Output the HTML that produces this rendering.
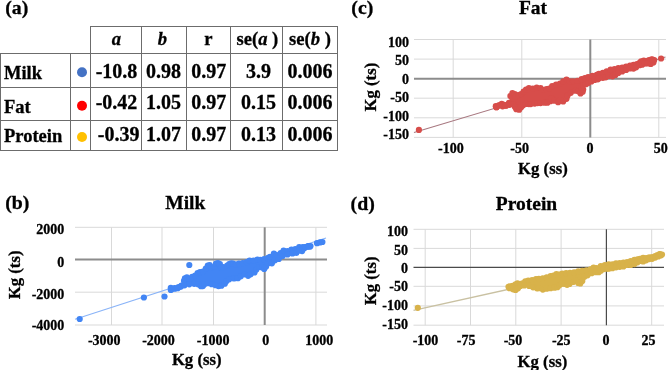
<!DOCTYPE html>
<html><head><meta charset="utf-8"><style>
html,body{margin:0;padding:0;background:#fff;width:669px;height:370px;overflow:hidden}
svg{display:block;will-change:transform}
text{font-family:"Liberation Serif",serif;font-weight:bold;fill:#000;stroke:#000;stroke-width:0.3px}
</style></head><body>
<svg width="669" height="370" viewBox="0 0 669 370">
<line x1="90" y1="26.5" x2="337.5" y2="26.5" stroke="#6c6c6c" stroke-width="1"/>
<line x1="0" y1="53.5" x2="337.5" y2="53.5" stroke="#6c6c6c" stroke-width="1"/>
<line x1="0" y1="87.5" x2="337.5" y2="87.5" stroke="#6c6c6c" stroke-width="1"/>
<line x1="0" y1="120.5" x2="337.5" y2="120.5" stroke="#6c6c6c" stroke-width="1"/>
<line x1="0" y1="150.5" x2="337.5" y2="150.5" stroke="#6c6c6c" stroke-width="1"/>
<line x1="0.5" y1="53" x2="0.5" y2="151" stroke="#6c6c6c" stroke-width="1"/>
<line x1="70.5" y1="53" x2="70.5" y2="151" stroke="#6c6c6c" stroke-width="1"/>
<line x1="90.5" y1="26" x2="90.5" y2="151" stroke="#6c6c6c" stroke-width="1"/>
<line x1="141.5" y1="26" x2="141.5" y2="151" stroke="#6c6c6c" stroke-width="1"/>
<line x1="186.5" y1="26" x2="186.5" y2="151" stroke="#6c6c6c" stroke-width="1"/>
<line x1="230.5" y1="26" x2="230.5" y2="151" stroke="#6c6c6c" stroke-width="1"/>
<line x1="282.5" y1="26" x2="282.5" y2="151" stroke="#6c6c6c" stroke-width="1"/>
<line x1="337.5" y1="26" x2="337.5" y2="151" stroke="#6c6c6c" stroke-width="1"/>
<text x="5.2" y="13.6" font-size="19.8" text-anchor="start" >(a)</text>
<text x="351.3" y="13.6" font-size="19.8" text-anchor="start" >(c)</text>
<text x="5.2" y="208.7" font-size="19.8" text-anchor="start" >(b)</text>
<text x="350.6" y="209.5" font-size="19.8" text-anchor="start" >(d)</text>
<text x="116.5" y="45.2" font-size="18.6" text-anchor="middle" font-style="italic">a</text>
<text x="162.3" y="45.2" font-size="18.6" text-anchor="middle" font-style="italic">b</text>
<text x="208.5" y="45.2" font-size="18.6" text-anchor="middle" >r</text>
<text x="257.4" y="45" font-size="18.6" text-anchor="middle" >se(<tspan font-style="italic">a</tspan> )</text>
<text x="310" y="45" font-size="18.6" text-anchor="middle" >se(<tspan font-style="italic">b</tspan> )</text>
<text x="4" y="79.4" font-size="18.5" text-anchor="start" >Milk</text>
<circle cx="82" cy="72.2" r="5" fill="#4472c4"/>
<text x="116.5" y="77.6" font-size="20" text-anchor="middle" >-10.8</text>
<text x="163.5" y="77.6" font-size="20" text-anchor="middle" >0.98</text>
<text x="208.7" y="77.6" font-size="20" text-anchor="middle" >0.97</text>
<text x="258.5" y="77.6" font-size="20" text-anchor="middle" >3.9</text>
<text x="310" y="77.6" font-size="20" text-anchor="middle" >0.006</text>
<text x="4" y="113" font-size="18.5" text-anchor="start" >Fat</text>
<circle cx="82" cy="105.8" r="5" fill="#ff0000"/>
<text x="116.5" y="109.4" font-size="20" text-anchor="middle" >-0.42</text>
<text x="163.5" y="109.4" font-size="20" text-anchor="middle" >1.05</text>
<text x="208.7" y="109.4" font-size="20" text-anchor="middle" >0.97</text>
<text x="258.5" y="109.4" font-size="20" text-anchor="middle" >0.15</text>
<text x="310" y="109.4" font-size="20" text-anchor="middle" >0.006</text>
<text x="4" y="142.1" font-size="18.5" text-anchor="start" >Protein</text>
<circle cx="82" cy="137" r="5" fill="#ffc000"/>
<text x="118.7" y="141.4" font-size="20" text-anchor="middle" >-0.39</text>
<text x="163.5" y="141.4" font-size="20" text-anchor="middle" >1.07</text>
<text x="208.7" y="141.4" font-size="20" text-anchor="middle" >0.97</text>
<text x="258.5" y="141.4" font-size="20" text-anchor="middle" >0.13</text>
<text x="310" y="141.4" font-size="20" text-anchor="middle" >0.006</text>
<line x1="414" y1="39.5" x2="666" y2="39.5" stroke="#d9d9d9" stroke-width="1"/>
<line x1="414" y1="59.1" x2="666" y2="59.1" stroke="#d9d9d9" stroke-width="1"/>
<line x1="414" y1="98.2" x2="666" y2="98.2" stroke="#d9d9d9" stroke-width="1"/>
<line x1="414" y1="117.8" x2="666" y2="117.8" stroke="#d9d9d9" stroke-width="1"/>
<line x1="414" y1="137.4" x2="666" y2="137.4" stroke="#d9d9d9" stroke-width="1"/>
<line x1="453.2" y1="39.5" x2="453.2" y2="137.5" stroke="#d9d9d9" stroke-width="1"/>
<line x1="521.8" y1="39.5" x2="521.8" y2="137.5" stroke="#d9d9d9" stroke-width="1"/>
<line x1="658.8" y1="39.5" x2="658.8" y2="137.5" stroke="#d9d9d9" stroke-width="1"/>
<line x1="414" y1="78.7" x2="666" y2="78.7" stroke="#8c8c8c" stroke-width="2"/>
<line x1="590.3" y1="39.5" x2="590.3" y2="137.5" stroke="#8c8c8c" stroke-width="2"/>
<text x="409" y="46.9" font-size="14" text-anchor="end" >100</text>
<text x="409" y="65.3" font-size="14" text-anchor="end" >50</text>
<text x="409" y="83.6" font-size="14" text-anchor="end" >0</text>
<text x="409" y="102.2" font-size="14" text-anchor="end" >-50</text>
<text x="409" y="120.7" font-size="14" text-anchor="end" >-100</text>
<text x="409" y="139" font-size="14" text-anchor="end" >-150</text>
<text x="450.9" y="152.9" font-size="14" text-anchor="middle" >-100</text>
<text x="519.6" y="152.9" font-size="14" text-anchor="middle" >-50</text>
<text x="590" y="152.9" font-size="14" text-anchor="middle" >0</text>
<text x="660.7" y="152.9" font-size="14" text-anchor="middle" >50</text>
<text x="533" y="13.8" font-size="19.5" text-anchor="middle" >Fat</text>
<text x="542.9" y="173.6" font-size="16.7" text-anchor="middle" >Kg (ss)</text>
<text x="0" y="0" font-size="16.7" text-anchor="middle" transform="translate(376,87.15) rotate(-90)">Kg (ts)</text>
<line x1="75" y1="227.3" x2="327" y2="227.3" stroke="#d9d9d9" stroke-width="1"/>
<line x1="75" y1="292.2" x2="327" y2="292.2" stroke="#d9d9d9" stroke-width="1"/>
<line x1="75" y1="325" x2="327" y2="325" stroke="#d9d9d9" stroke-width="1"/>
<line x1="111.5" y1="227.3" x2="111.5" y2="325" stroke="#d9d9d9" stroke-width="1"/>
<line x1="162" y1="227.3" x2="162" y2="325" stroke="#d9d9d9" stroke-width="1"/>
<line x1="213.5" y1="227.3" x2="213.5" y2="325" stroke="#d9d9d9" stroke-width="1"/>
<line x1="315.9" y1="227.3" x2="315.9" y2="325" stroke="#d9d9d9" stroke-width="1"/>
<line x1="75" y1="259.6" x2="327" y2="259.6" stroke="#8c8c8c" stroke-width="2"/>
<line x1="264.7" y1="227.3" x2="264.7" y2="325" stroke="#8c8c8c" stroke-width="2"/>
<text x="64.3" y="234.2" font-size="14" text-anchor="end" >2000</text>
<text x="64.3" y="266.6" font-size="14" text-anchor="end" >0</text>
<text x="64.3" y="298.6" font-size="14" text-anchor="end" >-2000</text>
<text x="64.3" y="329.5" font-size="14" text-anchor="end" >-4000</text>
<text x="104.3" y="345" font-size="14" text-anchor="middle" >-3000</text>
<text x="158.5" y="345" font-size="14" text-anchor="middle" >-2000</text>
<text x="213.2" y="345" font-size="14" text-anchor="middle" >-1000</text>
<text x="265.8" y="345" font-size="14" text-anchor="middle" >0</text>
<text x="319.3" y="345" font-size="14" text-anchor="middle" >1000</text>
<text x="185.3" y="208.9" font-size="19.5" text-anchor="middle" >Milk</text>
<text x="196.7" y="365.4" font-size="16.7" text-anchor="middle" >Kg (ss)</text>
<text x="0" y="0" font-size="16.7" text-anchor="middle" transform="translate(20.3,274.85) rotate(-90)">Kg (ts)</text>
<line x1="413.5" y1="229.3" x2="664" y2="229.3" stroke="#d9d9d9" stroke-width="1"/>
<line x1="413.5" y1="248.4" x2="664" y2="248.4" stroke="#d9d9d9" stroke-width="1"/>
<line x1="413.5" y1="286.3" x2="664" y2="286.3" stroke="#d9d9d9" stroke-width="1"/>
<line x1="413.5" y1="305.9" x2="664" y2="305.9" stroke="#d9d9d9" stroke-width="1"/>
<line x1="413.5" y1="325.2" x2="664" y2="325.2" stroke="#d9d9d9" stroke-width="1"/>
<line x1="425.2" y1="229.3" x2="425.2" y2="325.2" stroke="#d9d9d9" stroke-width="1"/>
<line x1="470.5" y1="229.3" x2="470.5" y2="325.2" stroke="#d9d9d9" stroke-width="1"/>
<line x1="515.8" y1="229.3" x2="515.8" y2="325.2" stroke="#d9d9d9" stroke-width="1"/>
<line x1="561.1" y1="229.3" x2="561.1" y2="325.2" stroke="#d9d9d9" stroke-width="1"/>
<line x1="651.7" y1="229.3" x2="651.7" y2="325.2" stroke="#d9d9d9" stroke-width="1"/>
<line x1="413.5" y1="267.4" x2="664" y2="267.4" stroke="#4a4a4a" stroke-width="1.2"/>
<line x1="606.4" y1="229.3" x2="606.4" y2="325.2" stroke="#4a4a4a" stroke-width="1.2"/>
<text x="408" y="235.8" font-size="14" text-anchor="end" >100</text>
<text x="408" y="254.7" font-size="14" text-anchor="end" >50</text>
<text x="408" y="272.8" font-size="14" text-anchor="end" >0</text>
<text x="408" y="291.4" font-size="14" text-anchor="end" >-50</text>
<text x="408" y="310.3" font-size="14" text-anchor="end" >-100</text>
<text x="408" y="328.6" font-size="14" text-anchor="end" >-150</text>
<text x="425.5" y="345.1" font-size="14" text-anchor="middle" >-100</text>
<text x="466.2" y="345.1" font-size="14" text-anchor="middle" >-75</text>
<text x="513" y="345.1" font-size="14" text-anchor="middle" >-50</text>
<text x="561.3" y="345.1" font-size="14" text-anchor="middle" >-25</text>
<text x="605.9" y="345.1" font-size="14" text-anchor="middle" >0</text>
<text x="648.5" y="345.1" font-size="14" text-anchor="middle" >25</text>
<text x="526.5" y="209.7" font-size="19.5" text-anchor="middle" >Protein</text>
<text x="542.4" y="366.5" font-size="16.7" text-anchor="middle" >Kg (ss)</text>
<text x="0" y="0" font-size="16.7" text-anchor="middle" transform="translate(375.7,280.9) rotate(-90)">Kg (ts)</text>
<line x1="414" y1="132.50" x2="665.5" y2="57.05" stroke="#a87880" stroke-width="1.1"/>
<path d="M496.4,107.4 L495.8,105.4 L498.8,104.0 L501.7,102.5 L504.1,103.5 L506.1,104.9 L509.0,101.5 L510.4,94.7 L512.4,91.8 L514.8,92.8 L515.8,95.2 L518.2,93.8 L521.1,92.8 L523.6,90.4 L526.0,88.4 L528.9,86.7 L532.8,87.2 L536.7,86.2 L540.6,86.7 L543.5,88.7 L546.4,87.7 L549.3,87.2 L552.2,84.8 L556.1,83.3 L560.0,82.4 L563.2,80.0 L566.5,78.4 L569.7,80.0 L573.0,80.0 L577.3,79.5 L581.6,77.9 L584.9,76.8 L588.1,75.7 L592.4,74.6 L596.8,73.5 L598.9,72.6 L602.8,71.6 L606.7,70.1 L610.6,68.2 L614.5,67.7 L618.3,66.7 L622.2,66.2 L626.1,65.3 L630.0,64.4 L633.5,63.6 L636.9,62.7 L639.9,61.4 L641.2,60.1 L643.8,59.3 L646.4,59.7 L649.0,58.8 L651.6,58.0 L654.2,59.3 L653.0,61.9 L652.6,60.8 L653.4,63.0 L650.8,65.2 L647.3,64.7 L644.7,64.7 L642.1,66.0 L639.5,66.5 L636.1,68.6 L633.5,69.9 L630.0,69.7 L626.1,71.3 L622.2,72.8 L618.3,74.2 L615.4,76.2 L612.5,77.6 L608.6,77.2 L605.7,78.6 L602.8,79.1 L598.9,79.6 L597.8,80.6 L594.6,81.2 L591.4,82.8 L588.1,84.4 L585.9,85.5 L583.2,86.6 L581.6,88.7 L583.2,90.9 L582.7,93.0 L580.5,94.7 L578.4,92.5 L575.1,92.0 L570.8,94.1 L567.6,96.8 L566.5,100.1 L563.2,102.8 L560.0,101.7 L558.1,103.5 L554.2,102.0 L551.3,99.6 L550.3,102.5 L547.4,104.0 L544.5,104.0 L540.6,104.4 L537.6,104.4 L534.7,104.9 L530.8,105.4 L528.9,105.4 L526.0,105.2 L523.1,106.6 L521.1,108.6 L519.2,111.0 L516.3,110.5 L514.8,108.1 L513.3,105.6 L509.5,106.1 L505.6,106.6 L502.6,107.6 L499.7,106.6 L496.8,108.1 L496.4,107.1Z" fill="#d74d4a"/>
<circle cx="496.4" cy="107.2" r="3.1" fill="#d74d4a"/>
<circle cx="495.8" cy="106.2" r="3.1" fill="#d74d4a"/>
<circle cx="498.8" cy="105.3" r="3.1" fill="#d74d4a"/>
<circle cx="501.7" cy="103.8" r="3.1" fill="#d74d4a"/>
<circle cx="504.1" cy="104.8" r="3.1" fill="#d74d4a"/>
<circle cx="506.1" cy="105.7" r="3.1" fill="#d74d4a"/>
<circle cx="509.0" cy="102.8" r="3.1" fill="#d74d4a"/>
<circle cx="510.4" cy="96.0" r="3.1" fill="#d74d4a"/>
<circle cx="512.4" cy="93.1" r="3.1" fill="#d74d4a"/>
<circle cx="514.8" cy="94.1" r="3.1" fill="#d74d4a"/>
<circle cx="515.8" cy="96.5" r="3.1" fill="#d74d4a"/>
<circle cx="518.2" cy="95.1" r="3.1" fill="#d74d4a"/>
<circle cx="521.1" cy="94.1" r="3.1" fill="#d74d4a"/>
<circle cx="523.6" cy="91.7" r="3.1" fill="#d74d4a"/>
<circle cx="526.0" cy="89.7" r="3.1" fill="#d74d4a"/>
<circle cx="528.9" cy="88.0" r="3.1" fill="#d74d4a"/>
<circle cx="532.8" cy="88.5" r="3.1" fill="#d74d4a"/>
<circle cx="536.7" cy="87.5" r="3.1" fill="#d74d4a"/>
<circle cx="540.6" cy="88.0" r="3.1" fill="#d74d4a"/>
<circle cx="543.5" cy="90.0" r="3.1" fill="#d74d4a"/>
<circle cx="546.4" cy="89.0" r="3.1" fill="#d74d4a"/>
<circle cx="549.3" cy="88.5" r="3.1" fill="#d74d4a"/>
<circle cx="552.2" cy="86.1" r="3.1" fill="#d74d4a"/>
<circle cx="556.1" cy="84.6" r="3.1" fill="#d74d4a"/>
<circle cx="560.0" cy="83.7" r="3.1" fill="#d74d4a"/>
<circle cx="563.2" cy="81.3" r="3.1" fill="#d74d4a"/>
<circle cx="566.5" cy="79.7" r="3.1" fill="#d74d4a"/>
<circle cx="569.7" cy="81.3" r="3.1" fill="#d74d4a"/>
<circle cx="573.0" cy="81.3" r="3.1" fill="#d74d4a"/>
<circle cx="577.3" cy="80.8" r="3.1" fill="#d74d4a"/>
<circle cx="581.6" cy="79.2" r="3.1" fill="#d74d4a"/>
<circle cx="584.9" cy="78.1" r="3.1" fill="#d74d4a"/>
<circle cx="588.1" cy="77.0" r="3.1" fill="#d74d4a"/>
<circle cx="592.4" cy="75.9" r="3.1" fill="#d74d4a"/>
<circle cx="596.8" cy="74.8" r="3.1" fill="#d74d4a"/>
<circle cx="598.9" cy="73.9" r="3.1" fill="#d74d4a"/>
<circle cx="602.8" cy="72.9" r="3.1" fill="#d74d4a"/>
<circle cx="606.7" cy="71.4" r="3.1" fill="#d74d4a"/>
<circle cx="610.6" cy="69.5" r="3.1" fill="#d74d4a"/>
<circle cx="614.5" cy="69.0" r="3.1" fill="#d74d4a"/>
<circle cx="618.3" cy="68.0" r="3.1" fill="#d74d4a"/>
<circle cx="622.2" cy="67.5" r="3.1" fill="#d74d4a"/>
<circle cx="626.1" cy="66.6" r="3.1" fill="#d74d4a"/>
<circle cx="630.0" cy="65.7" r="3.1" fill="#d74d4a"/>
<circle cx="633.5" cy="64.9" r="3.1" fill="#d74d4a"/>
<circle cx="636.9" cy="64.0" r="3.1" fill="#d74d4a"/>
<circle cx="639.9" cy="62.7" r="3.1" fill="#d74d4a"/>
<circle cx="641.2" cy="61.4" r="3.1" fill="#d74d4a"/>
<circle cx="643.8" cy="60.6" r="3.1" fill="#d74d4a"/>
<circle cx="646.4" cy="61.0" r="3.1" fill="#d74d4a"/>
<circle cx="649.0" cy="60.1" r="3.1" fill="#d74d4a"/>
<circle cx="651.6" cy="59.3" r="3.1" fill="#d74d4a"/>
<circle cx="654.2" cy="60.0" r="3.1" fill="#d74d4a"/>
<circle cx="653.0" cy="61.3" r="3.1" fill="#d74d4a"/>
<circle cx="496.4" cy="107.2" r="3.1" fill="#d74d4a"/>
<circle cx="496.8" cy="106.8" r="3.1" fill="#d74d4a"/>
<circle cx="499.7" cy="105.3" r="3.1" fill="#d74d4a"/>
<circle cx="502.6" cy="106.3" r="3.1" fill="#d74d4a"/>
<circle cx="505.6" cy="105.6" r="3.1" fill="#d74d4a"/>
<circle cx="509.5" cy="104.8" r="3.1" fill="#d74d4a"/>
<circle cx="513.3" cy="104.3" r="3.1" fill="#d74d4a"/>
<circle cx="514.8" cy="106.8" r="3.1" fill="#d74d4a"/>
<circle cx="516.3" cy="109.2" r="3.1" fill="#d74d4a"/>
<circle cx="519.2" cy="109.7" r="3.1" fill="#d74d4a"/>
<circle cx="521.1" cy="107.3" r="3.1" fill="#d74d4a"/>
<circle cx="523.1" cy="105.3" r="3.1" fill="#d74d4a"/>
<circle cx="526.0" cy="103.9" r="3.1" fill="#d74d4a"/>
<circle cx="528.9" cy="104.1" r="3.1" fill="#d74d4a"/>
<circle cx="530.8" cy="104.1" r="3.1" fill="#d74d4a"/>
<circle cx="534.7" cy="103.6" r="3.1" fill="#d74d4a"/>
<circle cx="537.6" cy="103.1" r="3.1" fill="#d74d4a"/>
<circle cx="540.6" cy="103.1" r="3.1" fill="#d74d4a"/>
<circle cx="544.5" cy="102.7" r="3.1" fill="#d74d4a"/>
<circle cx="547.4" cy="102.7" r="3.1" fill="#d74d4a"/>
<circle cx="550.3" cy="101.2" r="3.1" fill="#d74d4a"/>
<circle cx="551.3" cy="98.3" r="3.1" fill="#d74d4a"/>
<circle cx="554.2" cy="100.7" r="3.1" fill="#d74d4a"/>
<circle cx="558.1" cy="102.2" r="3.1" fill="#d74d4a"/>
<circle cx="560.0" cy="100.4" r="3.1" fill="#d74d4a"/>
<circle cx="563.2" cy="101.5" r="3.1" fill="#d74d4a"/>
<circle cx="566.5" cy="98.8" r="3.1" fill="#d74d4a"/>
<circle cx="567.6" cy="95.5" r="3.1" fill="#d74d4a"/>
<circle cx="570.8" cy="92.8" r="3.1" fill="#d74d4a"/>
<circle cx="575.1" cy="90.7" r="3.1" fill="#d74d4a"/>
<circle cx="578.4" cy="91.2" r="3.1" fill="#d74d4a"/>
<circle cx="580.5" cy="93.4" r="3.1" fill="#d74d4a"/>
<circle cx="582.7" cy="91.7" r="3.1" fill="#d74d4a"/>
<circle cx="583.2" cy="89.6" r="3.1" fill="#d74d4a"/>
<circle cx="581.6" cy="87.4" r="3.1" fill="#d74d4a"/>
<circle cx="583.2" cy="85.3" r="3.1" fill="#d74d4a"/>
<circle cx="585.9" cy="84.2" r="3.1" fill="#d74d4a"/>
<circle cx="588.1" cy="83.1" r="3.1" fill="#d74d4a"/>
<circle cx="591.4" cy="81.5" r="3.1" fill="#d74d4a"/>
<circle cx="594.6" cy="79.9" r="3.1" fill="#d74d4a"/>
<circle cx="597.8" cy="79.3" r="3.1" fill="#d74d4a"/>
<circle cx="598.9" cy="78.3" r="3.1" fill="#d74d4a"/>
<circle cx="602.8" cy="77.8" r="3.1" fill="#d74d4a"/>
<circle cx="605.7" cy="77.3" r="3.1" fill="#d74d4a"/>
<circle cx="608.6" cy="75.9" r="3.1" fill="#d74d4a"/>
<circle cx="612.5" cy="76.3" r="3.1" fill="#d74d4a"/>
<circle cx="615.4" cy="74.9" r="3.1" fill="#d74d4a"/>
<circle cx="618.3" cy="72.9" r="3.1" fill="#d74d4a"/>
<circle cx="622.2" cy="71.5" r="3.1" fill="#d74d4a"/>
<circle cx="626.1" cy="70.0" r="3.1" fill="#d74d4a"/>
<circle cx="630.0" cy="68.4" r="3.1" fill="#d74d4a"/>
<circle cx="633.5" cy="68.6" r="3.1" fill="#d74d4a"/>
<circle cx="636.1" cy="67.3" r="3.1" fill="#d74d4a"/>
<circle cx="639.5" cy="65.2" r="3.1" fill="#d74d4a"/>
<circle cx="642.1" cy="64.7" r="3.1" fill="#d74d4a"/>
<circle cx="644.7" cy="63.4" r="3.1" fill="#d74d4a"/>
<circle cx="647.3" cy="63.4" r="3.1" fill="#d74d4a"/>
<circle cx="650.8" cy="63.9" r="3.1" fill="#d74d4a"/>
<circle cx="653.4" cy="62.4" r="3.1" fill="#d74d4a"/>
<circle cx="652.6" cy="59.7" r="3.1" fill="#d74d4a"/>
<circle cx="661.1" cy="58.5" r="3.1" fill="#d74d4a"/>
<circle cx="418.9" cy="129.9" r="3.1" fill="#d74d4a"/>
<line x1="75" y1="319.15" x2="326" y2="238.07" stroke="#8ab4f8" stroke-width="1.1"/>
<path d="M171.4,289.8 L170.8,287.3 L174.7,286.8 L178.6,285.9 L181.5,284.4 L184.0,279.6 L184.9,277.1 L186.9,276.1 L189.3,277.6 L192.2,275.6 L195.2,274.2 L197.6,271.8 L200.0,270.8 L202.9,270.2 L205.8,267.3 L207.8,264.4 L209.7,263.9 L211.7,266.3 L214.6,265.4 L216.0,262.4 L218.0,261.7 L219.9,262.9 L220.9,266.3 L223.3,265.8 L227.2,264.4 L229.2,262.9 L231.1,262.0 L233.1,262.4 L236.0,263.4 L238.9,262.3 L242.8,261.8 L246.7,260.8 L249.6,259.4 L253.5,259.4 L257.4,258.4 L260.3,258.6 L264.2,257.9 L268.1,256.5 L270.0,255.6 L273.9,252.2 L276.8,253.7 L280.7,251.7 L283.6,249.3 L287.5,249.8 L291.4,248.3 L295.3,247.8 L299.2,245.9 L302.8,245.7 L305.6,246.4 L307.7,245.3 L310.5,245.3 L309.8,246.7 L308.7,246.7 L308.4,247.4 L305.6,247.7 L304.2,249.5 L302.1,252.4 L299.2,251.9 L296.3,254.3 L292.4,254.8 L287.5,255.8 L282.6,257.3 L278.8,260.2 L274.9,261.6 L271.9,264.6 L270.0,263.6 L268.1,264.5 L266.1,267.9 L264.2,270.3 L262.2,268.8 L259.3,268.3 L256.4,270.8 L254.5,273.7 L250.6,275.6 L248.1,277.1 L244.7,275.6 L240.8,277.6 L237.9,279.5 L234.0,279.7 L229.2,280.6 L226.3,282.6 L224.8,285.0 L221.4,287.0 L218.5,287.4 L215.6,286.5 L211.7,285.5 L207.8,284.5 L204.4,285.5 L202.9,287.4 L201.0,287.5 L198.1,285.6 L194.2,285.1 L189.3,285.6 L184.5,286.6 L180.6,288.0 L177.6,289.5 L174.7,290.0 L170.8,290.0 L171.4,288.5Z" fill="#4285f4"/>
<circle cx="171.4" cy="289.1" r="3.1" fill="#4285f4"/>
<circle cx="170.8" cy="287.9" r="3.1" fill="#4285f4"/>
<circle cx="174.7" cy="288.1" r="3.1" fill="#4285f4"/>
<circle cx="178.6" cy="287.2" r="3.1" fill="#4285f4"/>
<circle cx="181.5" cy="285.7" r="3.1" fill="#4285f4"/>
<circle cx="184.0" cy="280.9" r="3.1" fill="#4285f4"/>
<circle cx="184.9" cy="278.4" r="3.1" fill="#4285f4"/>
<circle cx="186.9" cy="277.4" r="3.1" fill="#4285f4"/>
<circle cx="189.3" cy="278.9" r="3.1" fill="#4285f4"/>
<circle cx="192.2" cy="276.9" r="3.1" fill="#4285f4"/>
<circle cx="195.2" cy="275.5" r="3.1" fill="#4285f4"/>
<circle cx="197.6" cy="273.1" r="3.1" fill="#4285f4"/>
<circle cx="200.0" cy="272.1" r="3.1" fill="#4285f4"/>
<circle cx="202.9" cy="271.5" r="3.1" fill="#4285f4"/>
<circle cx="205.8" cy="268.6" r="3.1" fill="#4285f4"/>
<circle cx="207.8" cy="265.7" r="3.1" fill="#4285f4"/>
<circle cx="209.7" cy="265.2" r="3.1" fill="#4285f4"/>
<circle cx="211.7" cy="267.6" r="3.1" fill="#4285f4"/>
<circle cx="214.6" cy="266.7" r="3.1" fill="#4285f4"/>
<circle cx="216.0" cy="263.7" r="3.1" fill="#4285f4"/>
<circle cx="218.0" cy="263.0" r="3.1" fill="#4285f4"/>
<circle cx="219.9" cy="264.2" r="3.1" fill="#4285f4"/>
<circle cx="220.9" cy="267.6" r="3.1" fill="#4285f4"/>
<circle cx="223.3" cy="267.1" r="3.1" fill="#4285f4"/>
<circle cx="227.2" cy="265.7" r="3.1" fill="#4285f4"/>
<circle cx="229.2" cy="264.2" r="3.1" fill="#4285f4"/>
<circle cx="231.1" cy="263.3" r="3.1" fill="#4285f4"/>
<circle cx="233.1" cy="263.7" r="3.1" fill="#4285f4"/>
<circle cx="236.0" cy="264.7" r="3.1" fill="#4285f4"/>
<circle cx="238.9" cy="263.6" r="3.1" fill="#4285f4"/>
<circle cx="242.8" cy="263.1" r="3.1" fill="#4285f4"/>
<circle cx="246.7" cy="262.1" r="3.1" fill="#4285f4"/>
<circle cx="249.6" cy="260.7" r="3.1" fill="#4285f4"/>
<circle cx="253.5" cy="260.7" r="3.1" fill="#4285f4"/>
<circle cx="257.4" cy="259.7" r="3.1" fill="#4285f4"/>
<circle cx="260.3" cy="259.9" r="3.1" fill="#4285f4"/>
<circle cx="264.2" cy="259.2" r="3.1" fill="#4285f4"/>
<circle cx="268.1" cy="257.8" r="3.1" fill="#4285f4"/>
<circle cx="270.0" cy="256.9" r="3.1" fill="#4285f4"/>
<circle cx="273.9" cy="253.5" r="3.1" fill="#4285f4"/>
<circle cx="276.8" cy="255.0" r="3.1" fill="#4285f4"/>
<circle cx="280.7" cy="253.0" r="3.1" fill="#4285f4"/>
<circle cx="283.6" cy="250.6" r="3.1" fill="#4285f4"/>
<circle cx="287.5" cy="251.1" r="3.1" fill="#4285f4"/>
<circle cx="291.4" cy="249.6" r="3.1" fill="#4285f4"/>
<circle cx="295.3" cy="249.1" r="3.1" fill="#4285f4"/>
<circle cx="299.2" cy="247.2" r="3.1" fill="#4285f4"/>
<circle cx="302.8" cy="247.0" r="3.1" fill="#4285f4"/>
<circle cx="305.6" cy="247.1" r="3.1" fill="#4285f4"/>
<circle cx="307.7" cy="246.4" r="3.1" fill="#4285f4"/>
<circle cx="310.5" cy="246.0" r="3.1" fill="#4285f4"/>
<circle cx="309.8" cy="246.7" r="3.1" fill="#4285f4"/>
<circle cx="171.4" cy="289.1" r="3.1" fill="#4285f4"/>
<circle cx="170.8" cy="289.9" r="3.1" fill="#4285f4"/>
<circle cx="174.7" cy="288.7" r="3.1" fill="#4285f4"/>
<circle cx="177.6" cy="288.2" r="3.1" fill="#4285f4"/>
<circle cx="180.6" cy="286.7" r="3.1" fill="#4285f4"/>
<circle cx="184.5" cy="285.3" r="3.1" fill="#4285f4"/>
<circle cx="189.3" cy="284.3" r="3.1" fill="#4285f4"/>
<circle cx="194.2" cy="283.8" r="3.1" fill="#4285f4"/>
<circle cx="198.1" cy="284.3" r="3.1" fill="#4285f4"/>
<circle cx="201.0" cy="286.2" r="3.1" fill="#4285f4"/>
<circle cx="202.9" cy="286.1" r="3.1" fill="#4285f4"/>
<circle cx="204.4" cy="284.2" r="3.1" fill="#4285f4"/>
<circle cx="207.8" cy="283.2" r="3.1" fill="#4285f4"/>
<circle cx="211.7" cy="284.2" r="3.1" fill="#4285f4"/>
<circle cx="215.6" cy="285.2" r="3.1" fill="#4285f4"/>
<circle cx="218.5" cy="286.1" r="3.1" fill="#4285f4"/>
<circle cx="221.4" cy="285.7" r="3.1" fill="#4285f4"/>
<circle cx="224.8" cy="283.7" r="3.1" fill="#4285f4"/>
<circle cx="226.3" cy="281.3" r="3.1" fill="#4285f4"/>
<circle cx="229.2" cy="279.3" r="3.1" fill="#4285f4"/>
<circle cx="234.0" cy="278.4" r="3.1" fill="#4285f4"/>
<circle cx="237.9" cy="278.2" r="3.1" fill="#4285f4"/>
<circle cx="240.8" cy="276.3" r="3.1" fill="#4285f4"/>
<circle cx="244.7" cy="274.3" r="3.1" fill="#4285f4"/>
<circle cx="248.1" cy="275.8" r="3.1" fill="#4285f4"/>
<circle cx="250.6" cy="274.3" r="3.1" fill="#4285f4"/>
<circle cx="254.5" cy="272.4" r="3.1" fill="#4285f4"/>
<circle cx="256.4" cy="269.5" r="3.1" fill="#4285f4"/>
<circle cx="259.3" cy="267.0" r="3.1" fill="#4285f4"/>
<circle cx="262.2" cy="267.5" r="3.1" fill="#4285f4"/>
<circle cx="264.2" cy="269.0" r="3.1" fill="#4285f4"/>
<circle cx="266.1" cy="266.6" r="3.1" fill="#4285f4"/>
<circle cx="268.1" cy="263.2" r="3.1" fill="#4285f4"/>
<circle cx="270.0" cy="262.3" r="3.1" fill="#4285f4"/>
<circle cx="271.9" cy="263.3" r="3.1" fill="#4285f4"/>
<circle cx="274.9" cy="260.3" r="3.1" fill="#4285f4"/>
<circle cx="278.8" cy="258.9" r="3.1" fill="#4285f4"/>
<circle cx="282.6" cy="256.0" r="3.1" fill="#4285f4"/>
<circle cx="287.5" cy="254.5" r="3.1" fill="#4285f4"/>
<circle cx="292.4" cy="253.5" r="3.1" fill="#4285f4"/>
<circle cx="296.3" cy="253.0" r="3.1" fill="#4285f4"/>
<circle cx="299.2" cy="250.6" r="3.1" fill="#4285f4"/>
<circle cx="302.1" cy="251.1" r="3.1" fill="#4285f4"/>
<circle cx="304.2" cy="248.2" r="3.1" fill="#4285f4"/>
<circle cx="305.6" cy="247.1" r="3.1" fill="#4285f4"/>
<circle cx="308.4" cy="246.3" r="3.1" fill="#4285f4"/>
<circle cx="308.7" cy="246.0" r="3.1" fill="#4285f4"/>
<circle cx="79.7" cy="319.0" r="3.1" fill="#4285f4"/>
<circle cx="143.9" cy="297.5" r="3.1" fill="#4285f4"/>
<circle cx="164.5" cy="296.5" r="3.1" fill="#4285f4"/>
<circle cx="189.3" cy="265.0" r="3.1" fill="#4285f4"/>
<circle cx="317.0" cy="243.2" r="3.1" fill="#4285f4"/>
<circle cx="320.0" cy="242.4" r="3.1" fill="#4285f4"/>
<circle cx="322.4" cy="242.0" r="3.1" fill="#4285f4"/>
<line x1="413.5" y1="310.34" x2="663.5" y2="255.09" stroke="#c9c1a2" stroke-width="1.4"/>
<path d="M510.0,288.4 L508.5,286.9 L509.7,286.0 L512.6,284.5 L515.6,283.1 L517.5,282.1 L519.9,283.1 L522.4,282.1 L525.3,280.1 L528.2,279.2 L532.1,278.7 L536.0,277.7 L538.9,277.6 L542.8,277.1 L546.7,276.1 L550.6,274.7 L553.5,274.2 L556.4,272.7 L559.3,273.2 L562.2,272.2 L566.1,271.8 L570.0,271.5 L574.1,271.1 L578.2,270.0 L582.3,269.5 L586.4,269.0 L590.5,268.0 L593.6,266.4 L596.7,266.9 L600.8,264.9 L604.9,263.9 L608.7,263.1 L612.4,263.1 L616.0,262.1 L619.7,261.7 L623.4,261.2 L627.1,260.8 L630.7,259.8 L634.4,258.5 L637.5,258.1 L640.0,257.6 L643.1,256.5 L646.1,256.8 L649.1,256.1 L652.1,255.7 L655.2,254.9 L657.4,253.8 L659.7,253.1 L662.0,254.2 L660.6,256.1 L659.8,254.8 L660.4,256.3 L658.2,257.8 L655.2,258.9 L652.1,260.1 L649.1,260.4 L646.1,261.6 L643.1,262.7 L640.0,262.3 L637.5,263.6 L634.4,265.4 L630.7,266.3 L627.1,266.3 L623.4,267.7 L619.7,268.1 L616.0,268.6 L612.4,269.5 L608.7,270.0 L607.0,269.9 L603.9,270.4 L600.8,272.0 L598.7,273.5 L595.7,273.5 L591.6,274.5 L587.5,276.6 L584.4,278.1 L582.3,282.2 L580.3,284.8 L578.2,284.3 L576.2,282.2 L573.1,283.3 L569.5,285.2 L567.1,286.1 L564.2,285.1 L561.3,285.1 L559.3,286.6 L557.4,288.5 L554.5,289.0 L550.6,289.5 L546.7,290.0 L542.8,290.9 L538.9,289.5 L537.0,289.6 L533.1,288.6 L529.2,287.2 L524.3,286.7 L520.4,287.2 L518.0,289.6 L515.6,291.3 L513.1,290.6 L511.7,288.1 L509.5,288.1 L510.0,286.7Z" fill="#d8b24a"/>
<circle cx="510.0" cy="287.6" r="3.1" fill="#d8b24a"/>
<circle cx="508.5" cy="286.8" r="3.1" fill="#d8b24a"/>
<circle cx="509.7" cy="286.4" r="3.1" fill="#d8b24a"/>
<circle cx="512.6" cy="285.8" r="3.1" fill="#d8b24a"/>
<circle cx="515.6" cy="284.4" r="3.1" fill="#d8b24a"/>
<circle cx="517.5" cy="283.4" r="3.1" fill="#d8b24a"/>
<circle cx="519.9" cy="284.4" r="3.1" fill="#d8b24a"/>
<circle cx="522.4" cy="283.4" r="3.1" fill="#d8b24a"/>
<circle cx="525.3" cy="281.4" r="3.1" fill="#d8b24a"/>
<circle cx="528.2" cy="280.5" r="3.1" fill="#d8b24a"/>
<circle cx="532.1" cy="280.0" r="3.1" fill="#d8b24a"/>
<circle cx="536.0" cy="279.0" r="3.1" fill="#d8b24a"/>
<circle cx="538.9" cy="278.9" r="3.1" fill="#d8b24a"/>
<circle cx="542.8" cy="278.4" r="3.1" fill="#d8b24a"/>
<circle cx="546.7" cy="277.4" r="3.1" fill="#d8b24a"/>
<circle cx="550.6" cy="276.0" r="3.1" fill="#d8b24a"/>
<circle cx="553.5" cy="275.5" r="3.1" fill="#d8b24a"/>
<circle cx="556.4" cy="274.0" r="3.1" fill="#d8b24a"/>
<circle cx="559.3" cy="274.5" r="3.1" fill="#d8b24a"/>
<circle cx="562.2" cy="273.5" r="3.1" fill="#d8b24a"/>
<circle cx="566.1" cy="273.1" r="3.1" fill="#d8b24a"/>
<circle cx="570.0" cy="272.8" r="3.1" fill="#d8b24a"/>
<circle cx="574.1" cy="272.4" r="3.1" fill="#d8b24a"/>
<circle cx="578.2" cy="271.3" r="3.1" fill="#d8b24a"/>
<circle cx="582.3" cy="270.8" r="3.1" fill="#d8b24a"/>
<circle cx="586.4" cy="270.3" r="3.1" fill="#d8b24a"/>
<circle cx="590.5" cy="269.3" r="3.1" fill="#d8b24a"/>
<circle cx="593.6" cy="267.7" r="3.1" fill="#d8b24a"/>
<circle cx="596.7" cy="268.2" r="3.1" fill="#d8b24a"/>
<circle cx="600.8" cy="266.2" r="3.1" fill="#d8b24a"/>
<circle cx="604.9" cy="265.2" r="3.1" fill="#d8b24a"/>
<circle cx="608.7" cy="264.4" r="3.1" fill="#d8b24a"/>
<circle cx="612.4" cy="264.4" r="3.1" fill="#d8b24a"/>
<circle cx="616.0" cy="263.4" r="3.1" fill="#d8b24a"/>
<circle cx="619.7" cy="263.0" r="3.1" fill="#d8b24a"/>
<circle cx="623.4" cy="262.5" r="3.1" fill="#d8b24a"/>
<circle cx="627.1" cy="262.1" r="3.1" fill="#d8b24a"/>
<circle cx="630.7" cy="261.1" r="3.1" fill="#d8b24a"/>
<circle cx="634.4" cy="259.8" r="3.1" fill="#d8b24a"/>
<circle cx="637.5" cy="259.4" r="3.1" fill="#d8b24a"/>
<circle cx="640.0" cy="258.9" r="3.1" fill="#d8b24a"/>
<circle cx="643.1" cy="257.8" r="3.1" fill="#d8b24a"/>
<circle cx="646.1" cy="258.1" r="3.1" fill="#d8b24a"/>
<circle cx="649.1" cy="257.4" r="3.1" fill="#d8b24a"/>
<circle cx="652.1" cy="257.0" r="3.1" fill="#d8b24a"/>
<circle cx="655.2" cy="256.2" r="3.1" fill="#d8b24a"/>
<circle cx="657.4" cy="255.1" r="3.1" fill="#d8b24a"/>
<circle cx="659.7" cy="254.4" r="3.1" fill="#d8b24a"/>
<circle cx="662.0" cy="254.5" r="3.1" fill="#d8b24a"/>
<circle cx="660.6" cy="255.4" r="3.1" fill="#d8b24a"/>
<circle cx="510.0" cy="287.6" r="3.1" fill="#d8b24a"/>
<circle cx="509.5" cy="288.2" r="3.1" fill="#d8b24a"/>
<circle cx="511.7" cy="286.8" r="3.1" fill="#d8b24a"/>
<circle cx="513.1" cy="289.3" r="3.1" fill="#d8b24a"/>
<circle cx="515.6" cy="290.0" r="3.1" fill="#d8b24a"/>
<circle cx="518.0" cy="288.3" r="3.1" fill="#d8b24a"/>
<circle cx="520.4" cy="285.9" r="3.1" fill="#d8b24a"/>
<circle cx="524.3" cy="285.4" r="3.1" fill="#d8b24a"/>
<circle cx="529.2" cy="285.9" r="3.1" fill="#d8b24a"/>
<circle cx="533.1" cy="287.3" r="3.1" fill="#d8b24a"/>
<circle cx="537.0" cy="288.3" r="3.1" fill="#d8b24a"/>
<circle cx="538.9" cy="288.2" r="3.1" fill="#d8b24a"/>
<circle cx="542.8" cy="289.6" r="3.1" fill="#d8b24a"/>
<circle cx="546.7" cy="288.7" r="3.1" fill="#d8b24a"/>
<circle cx="550.6" cy="288.2" r="3.1" fill="#d8b24a"/>
<circle cx="554.5" cy="287.7" r="3.1" fill="#d8b24a"/>
<circle cx="557.4" cy="287.2" r="3.1" fill="#d8b24a"/>
<circle cx="559.3" cy="285.3" r="3.1" fill="#d8b24a"/>
<circle cx="561.3" cy="283.8" r="3.1" fill="#d8b24a"/>
<circle cx="564.2" cy="283.8" r="3.1" fill="#d8b24a"/>
<circle cx="567.1" cy="284.8" r="3.1" fill="#d8b24a"/>
<circle cx="569.5" cy="283.9" r="3.1" fill="#d8b24a"/>
<circle cx="573.1" cy="282.0" r="3.1" fill="#d8b24a"/>
<circle cx="576.2" cy="280.9" r="3.1" fill="#d8b24a"/>
<circle cx="578.2" cy="283.0" r="3.1" fill="#d8b24a"/>
<circle cx="580.3" cy="283.5" r="3.1" fill="#d8b24a"/>
<circle cx="582.3" cy="280.9" r="3.1" fill="#d8b24a"/>
<circle cx="584.4" cy="276.8" r="3.1" fill="#d8b24a"/>
<circle cx="587.5" cy="275.3" r="3.1" fill="#d8b24a"/>
<circle cx="591.6" cy="273.2" r="3.1" fill="#d8b24a"/>
<circle cx="595.7" cy="272.2" r="3.1" fill="#d8b24a"/>
<circle cx="598.7" cy="272.2" r="3.1" fill="#d8b24a"/>
<circle cx="600.8" cy="270.7" r="3.1" fill="#d8b24a"/>
<circle cx="603.9" cy="269.1" r="3.1" fill="#d8b24a"/>
<circle cx="607.0" cy="268.6" r="3.1" fill="#d8b24a"/>
<circle cx="608.7" cy="268.7" r="3.1" fill="#d8b24a"/>
<circle cx="612.4" cy="268.2" r="3.1" fill="#d8b24a"/>
<circle cx="616.0" cy="267.3" r="3.1" fill="#d8b24a"/>
<circle cx="619.7" cy="266.8" r="3.1" fill="#d8b24a"/>
<circle cx="623.4" cy="266.4" r="3.1" fill="#d8b24a"/>
<circle cx="627.1" cy="265.0" r="3.1" fill="#d8b24a"/>
<circle cx="630.7" cy="265.0" r="3.1" fill="#d8b24a"/>
<circle cx="634.4" cy="264.1" r="3.1" fill="#d8b24a"/>
<circle cx="637.5" cy="262.3" r="3.1" fill="#d8b24a"/>
<circle cx="640.0" cy="261.0" r="3.1" fill="#d8b24a"/>
<circle cx="643.1" cy="261.4" r="3.1" fill="#d8b24a"/>
<circle cx="646.1" cy="260.3" r="3.1" fill="#d8b24a"/>
<circle cx="649.1" cy="259.1" r="3.1" fill="#d8b24a"/>
<circle cx="652.1" cy="258.8" r="3.1" fill="#d8b24a"/>
<circle cx="655.2" cy="257.6" r="3.1" fill="#d8b24a"/>
<circle cx="658.2" cy="256.5" r="3.1" fill="#d8b24a"/>
<circle cx="660.4" cy="255.0" r="3.1" fill="#d8b24a"/>
<circle cx="659.8" cy="254.0" r="3.1" fill="#d8b24a"/>
<circle cx="417.8" cy="307.8" r="3.1" fill="#d8b24a"/>
</svg></body></html>
